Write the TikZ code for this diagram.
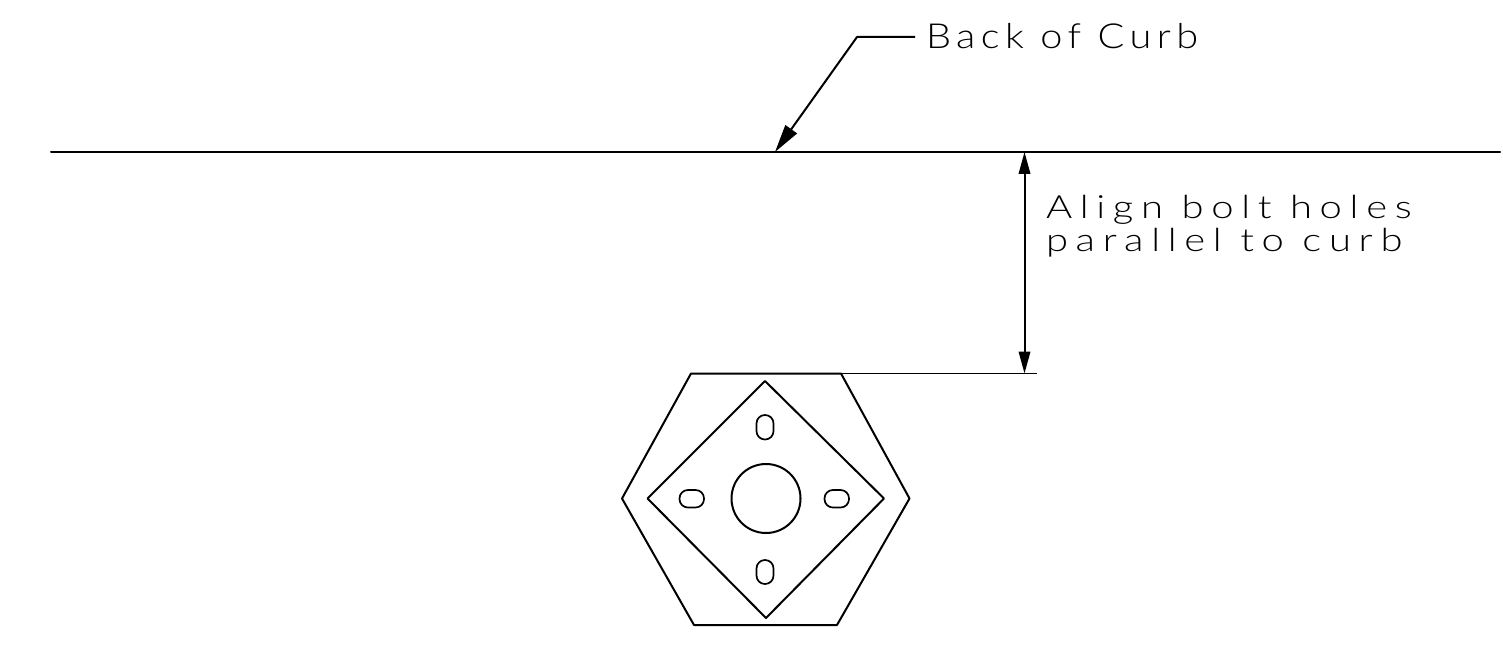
\documentclass[tikz,border=0pt]{standalone}
\usepackage{fontspec}
\setmainfont{Liberation Sans}
\newfontfamily\cadfontA[LetterSpace=16,FakeStretch=1.15]{Lato Light}
\newfontfamily\cadfontB[LetterSpace=24,FakeStretch=1.25]{Lato Light}
\usetikzlibrary{arrows.meta}
\tikzset{
  cad/.style={line width=2pt,black,line join=round,line cap=round},
  thin cad/.style={line width=1.5pt,black},
  lbl/.style={inner sep=0pt,outer sep=0pt,anchor=base west,align=left},
  slot/.style={line width=1.7pt,rounded corners=8.4pt},
  bigtip/.style={-{Triangle[length=28pt,width=14pt]}},
  dimtip/.style={{Triangle[length=22pt,width=11.5pt]}-{Triangle[length=22pt,width=11.5pt]}}
}
\begin{document}
\begin{tikzpicture}[x=1pt,y=-1pt]
\useasboundingbox (0,0) rectangle (1503,655);
% curb
\coordinate (curbL) at (51,152);
\coordinate (curbR) at (1500,152);
\draw[cad] (curbL) -- (curbR);
% leader
\coordinate (tip) at (775,152);
\coordinate (elbow) at (857,37);
\coordinate (lead) at (915,37);
\node[lbl,font=\cadfontA\fontsize{34.5}{33}\selectfont] (back) at (926,49) {Back of Curb};
\draw[cad,line cap=butt,bigtip] (lead) -- (elbow) -- (tip);
% dimension
\coordinate (dimT) at (1024.5,152);
\coordinate (dimB) at (1024.5,373.5);
\draw[cad,line cap=butt,dimtip] (dimT) -- (dimB);
\node[lbl,font=\cadfontB\fontsize{32}{33}\selectfont] (align) at (1046,251) {Align bolt holes\\parallel to curb};
% hexagon
\coordinate (h1) at (691,373.5);
\coordinate (h2) at (841,373.5);
\coordinate (h3) at (909.5,498.5);
\coordinate (h4) at (837,625);
\coordinate (h5) at (694,625);
\coordinate (h6) at (622,498.5);
\draw[cad] (h1) -- (h2) -- (h3) -- (h4) -- (h5) -- (h6) -- cycle;
\coordinate (ext) at (1037,373.5);
\draw[thin cad] (h2) -- (ext);
% diamond
\coordinate (d1) at (765,381);
\coordinate (d2) at (884,498.5);
\coordinate (d3) at (766,618);
\coordinate (d4) at (647.5,498.5);
\draw[cad] (d1) -- (d2) -- (d3) -- (d4) -- cycle;
% centre hole
\draw[cad] (766,498.5) circle[radius=34.5];
% slots
\draw[slot] (756.5,415) rectangle (773.5,439.5);
\draw[slot] (756.5,560) rectangle (773.5,584);
\draw[slot] (679.5,490) rectangle (704,507.5);
\draw[slot] (824.5,490) rectangle (849,507.5);
\end{tikzpicture}
\end{document}
